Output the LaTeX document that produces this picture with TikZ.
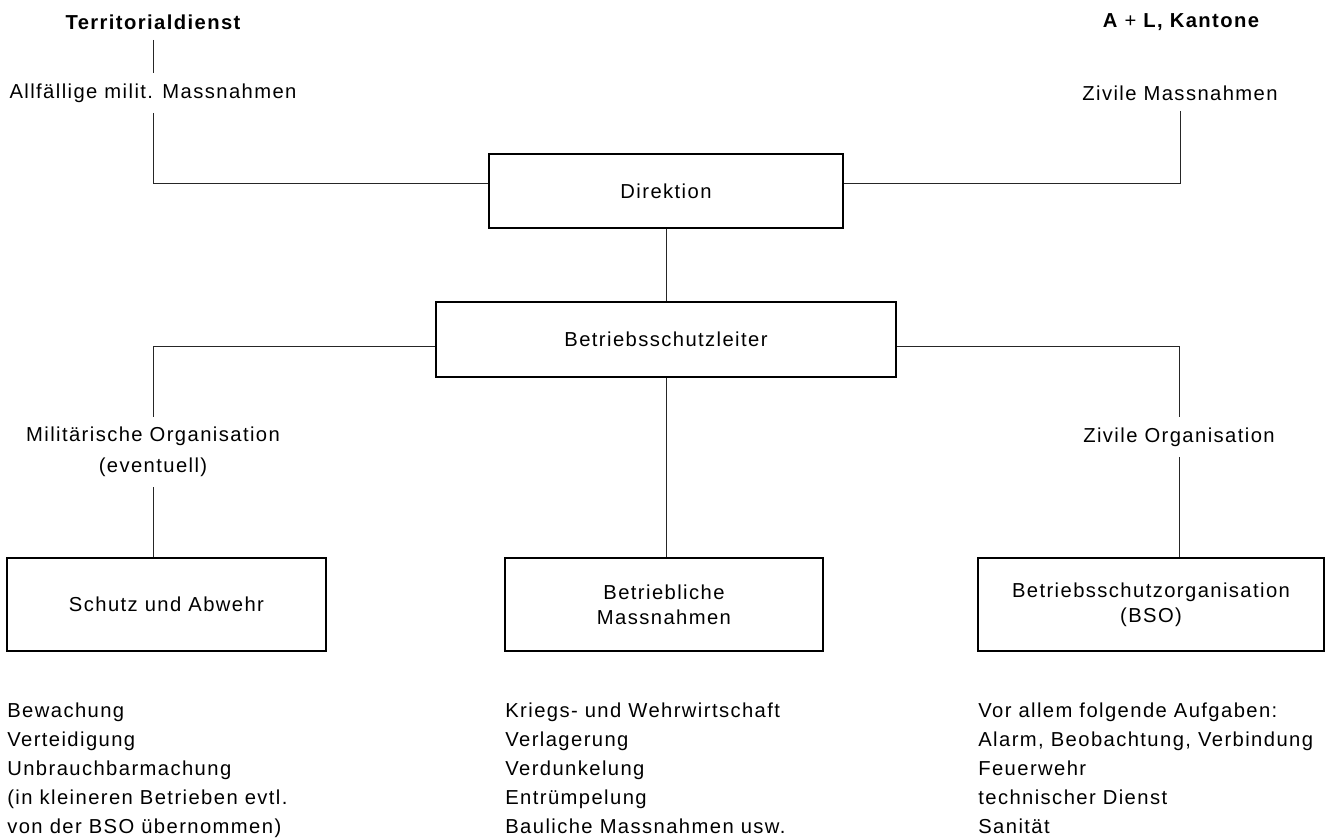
\documentclass[tikz,border=0pt]{standalone}
\usepackage{fontspec}
\setmainfont{Liberation Sans}[LetterSpace=7]
\usepackage{tikz}
\usetikzlibrary{positioning, calc}

\begin{document}
\begin{tikzpicture}[x=0.02cm, y=-0.02cm,
        box/.style={draw, line width=1.3pt, align=center, inner sep=0pt, font=\fontsize{11.5}{14.2}\selectfont},
        lbl/.style={align=center, inner sep=0pt, outer sep=6pt, font=\fontsize{11.5}{17.6}\selectfont},
        lblbold/.style={lbl, font=\fontsize{11.5}{14}\selectfont\bfseries},
        liste/.style={anchor=north west, align=left, inner sep=0pt, font=\fontsize{11.5}{16.5}\selectfont},
        conn/.style={draw=black!85, line width=0.55pt}]
        \newcommand{\LeftX}{153}
        \newcommand{\RightX}{1180}
        \newcommand{\MidX}{666}
        \newcommand{\BoxY}{604.5}

        \useasboundingbox (0,0) rectangle (1333,838);

        \node[lblbold] (terr) at (\LeftX,22) {Territorialdienst};
        \node[lbl] (milit) at (\LeftX,93) {Allfällige milit. Massnahmen};
        \node[lblbold] (akant) at (1181,22) {A {\mdseries +} L, Kantone};
        \node[lbl] (zivil) at (\RightX,93) {Zivile Massnahmen};

        \node[box, minimum width=7.08cm, minimum height=1.48cm] (dir) at (\MidX,191) {Direktion};
        \node[box, minimum width=9.2cm, minimum height=1.5cm] (leiter) at (\MidX,339.5) {Betriebsschutzleiter};

        \node[lbl] (militorg) at (\LeftX,452) {Militärische Organisation\\(eventuell)};
        \node[lbl] (zivorg) at (1179,437) {Zivile Organisation};

        \node[box, minimum width=6.38cm, minimum height=1.86cm] (schutz) at (166.5,\BoxY) {Schutz und Abwehr};
        \node[box, minimum width=6.36cm, minimum height=1.86cm] (betrieb) at (664,\BoxY) {Betriebliche\\Massnahmen};
        \node[box, minimum width=6.92cm, minimum height=1.86cm] (bso) at (1151,\BoxY) {Betriebsschutzorganisation\\(BSO)};

        \node[liste] (listschutz) at (7,703) {Bewachung\\Verteidigung\\Unbrauchbarmachung\\(in kleineren Betrieben evtl.\\von der BSO übernommen)};
        \node[liste] (listbetrieb) at (505,703) {Kriegs- und Wehrwirtschaft\\Verlagerung\\Verdunkelung\\Entrümpelung\\Bauliche Massnahmen usw.};
        \node[liste] (listbso) at (978,703) {Vor allem folgende Aufgaben:\\Alarm, Beobachtung, Verbindung\\Feuerwehr\\technischer Dienst\\Sanität};

        \draw[conn] (terr) -- (milit);% Territorialdienst
        \draw[conn] (milit) |- ([yshift=4pt]dir.west);
        \draw[conn] (zivil) |- ([yshift=4pt]dir.east);
        \draw[conn] (dir) -- (leiter);
        \draw[conn] ([yshift=-4.25pt]leiter.west) -| (militorg);% left branch
        \draw[conn] (militorg) -- (militorg |- schutz.north);
        \draw[conn] ([yshift=-4.25pt]leiter.east) -| (zivorg);% right branch
        \draw[conn] (zivorg) -- (zivorg |- bso.north);
        \draw[conn] (leiter) -- (leiter |- betrieb.north);% middle branch
    \end{tikzpicture}
\end{document}
